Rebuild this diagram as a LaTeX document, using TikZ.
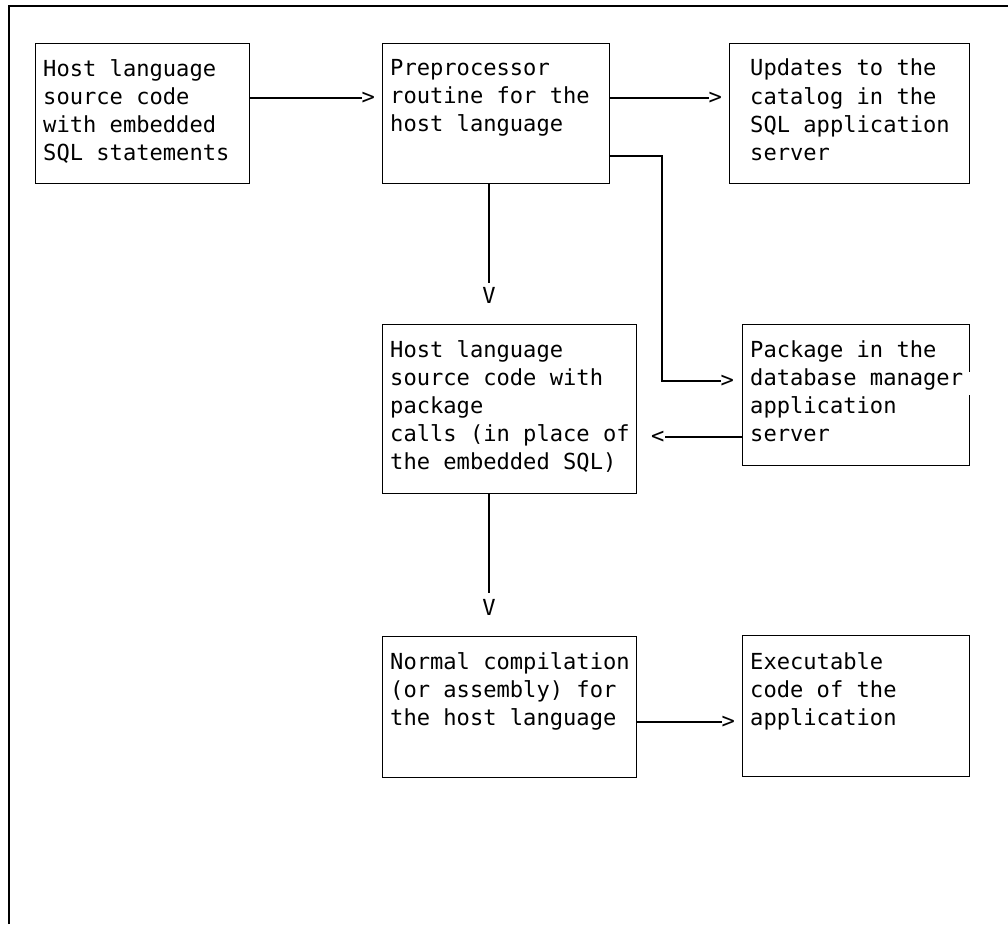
\documentclass[tikz,border=0pt]{standalone}
\usepackage{fontspec}
\setmonofont{DejaVu Sans Mono}
\usetikzlibrary{calc}

\begin{document}
\begin{tikzpicture}[x=1pt,y=-1pt]
    \tikzset{box/.style={draw, line width=1.2pt, anchor=north west, inner sep=0pt},
             txt/.style={anchor=north west, inner sep=0pt, align=left,
                 font=\ttfamily\fontsize{22.1}{28.2}\selectfont,
                 execute at begin node={\rule{0pt}{20pt}}},
             tip/.style={inner sep=0pt, font=\ttfamily\fontsize{22.1}{28.2}\selectfont},
             wire/.style={line width=1.1pt}}
    \useasboundingbox (0,0) rectangle (1008,924);
    % outer frame (cut off right and below)
    \draw[line width=1.2pt] (9,924) -- (9,6) -- (1008,6);

    % boxes
    \node[box, minimum width=214pt, minimum height=140pt] (src) at (35,43) {};
    \node[box, minimum width=227pt, minimum height=140pt] (prep) at (382,43) {};
    \node[box, minimum width=240pt, minimum height=140pt] (upd) at (729,43) {};
    \node[box, minimum width=254pt, minimum height=169pt] (host) at (382,324) {};
    \node[box, minimum width=227pt, minimum height=141pt] (pkg) at (742,324) {};
    \node[box, minimum width=254pt, minimum height=141pt] (comp) at (382,636) {};
    \node[box, minimum width=227pt, minimum height=141pt] (exe) at (742,635) {};
    % gap in the right side where the text runs over
    \fill[white] ($(pkg.north east)+(-2,48)$) rectangle ++(4,23);

    % texts
    \node[txt] (srctxt) at (43,59) {Host language\\source code\\with embedded\\SQL statements};
    \node[txt] (preptxt) at (390,59) {Preprocessor\\routine for the\\host language};
    \node[txt] (updtxt) at (750,59) {Updates to the\\catalog in the\\SQL application\\server};
    \node[txt] (hosttxt) at (390,340) {Host language\\source code with\\package\\calls (in place of\\the embedded SQL)};
    \node[txt] (pkgtxt) at (750,340) {Package in the\\database manager\\application\\server};
    \node[txt] (comptxt) at (390,652) {Normal compilation\\(or assembly) for\\the host language};
    \node[txt] (exetxt) at (750,652) {Executable\\code of the\\application};

    % arrow heads as letters
    \node[tip, anchor=west] (t1) at (361.5,98) {>};
    \node[tip, anchor=west] (t2) at (708.5,98) {>};
    \node[tip, anchor=west] (t3) at (720.5,381) {>};
    \node[tip, anchor=west] (t4) at (651,437) {<};
    \node[tip, anchor=west] (t5) at (721.5,722) {>};
    \node[tip, anchor=north] (v1) at (489,287) {V};
    \node[tip, anchor=north] (v2) at (489,599) {V};

    % connectors
    \draw[wire] (src.east |- t1) -- (t1.west);
    \draw[wire] (prep.east |- t2) -- (t2.west);
    \draw[wire] ($(prep.north east)+(0,113)$) -| (662,381) -- (t3.west);
    \draw[wire] (pkg.west |- t4) -- (t4.east);
    \draw[wire] (comp.east |- t5) -- (t5.west);
    \draw[wire] (prep.south -| v1) -- ([yshift=4pt]v1.north);
    \draw[wire] (host.south -| v2) -- ([yshift=6pt]v2.north);
\end{tikzpicture}
\end{document}
